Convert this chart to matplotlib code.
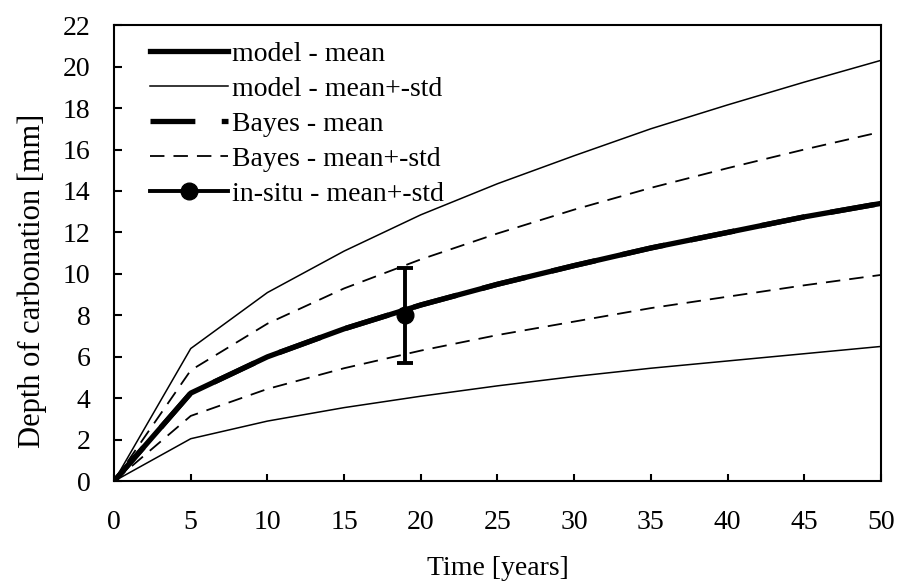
import numpy as np
import matplotlib.pyplot as plt
from matplotlib.lines import Line2D

plt.rcParams['font.family'] = ['Liberation Serif', 'DejaVu Serif']

years = [0, 5, 10, 15, 20, 25, 30, 35, 40, 45, 50]
model_mean = [0, 4.25, 6.0, 7.35, 8.5, 9.5, 10.4, 11.25, 12.0, 12.75, 13.4]
model_upper = [0, 6.4, 9.1, 11.1, 12.85, 14.35, 15.7, 17.0, 18.15, 19.25, 20.3]
model_lower = [0, 2.05, 2.9, 3.55, 4.1, 4.6, 5.05, 5.45, 5.8, 6.15, 6.5]
bayes_mean = [0, 4.25, 6.0, 7.35, 8.5, 9.5, 10.4, 11.25, 12.0, 12.75, 13.4]
bayes_upper = [0, 5.35, 7.6, 9.3, 10.7, 11.95, 13.1, 14.15, 15.1, 16.0, 16.85]
bayes_lower = [0, 3.15, 4.45, 5.45, 6.3, 7.05, 7.7, 8.35, 8.9, 9.45, 9.95]
insitu_t = [19]
insitu_mean = [8.0]
insitu_std = [2.3]

fig, ax = plt.subplots(figsize=(8.98, 5.84), dpi=100)
fig.subplots_adjust(left=0.127, right=0.981, top=0.957, bottom=0.176)

h1, = ax.plot(years, model_mean, color='black', lw=3.8, label='model - mean')
h2, = ax.plot(years, model_upper, color='black', lw=1.1, label='model - mean+-std')
ax.plot(years, model_lower, color='black', lw=1.1)
h3, = ax.plot(years, bayes_mean, color='black', lw=3.8, dashes=(8.5, 5), label='Bayes - mean')
h4, = ax.plot(years, bayes_upper, color='black', lw=1.3, dashes=(8, 5), label='Bayes - mean+-std')
ax.plot(years, bayes_lower, color='black', lw=1.3, dashes=(8, 5))
ax.errorbar(insitu_t, insitu_mean, yerr=insitu_std, color='black', lw=2.8, marker='o', ms=12,
            capsize=6, capthick=2.8, zorder=5)
h5 = Line2D([], [], color='black', lw=2.8, marker='o', ms=12)

ax.set_xlim(0, 50)
ax.set_ylim(0, 22)
ax.set_xticks(np.arange(0, 51, 5))
ax.set_yticks(np.arange(0, 23, 2))
ax.tick_params(axis='x', direction='in', length=5, width=1.5, pad=21, labelsize=20)
ax.tick_params(axis='y', direction='in', length=6, width=1.5, pad=17, labelsize=20)
for s in ax.spines.values():
    s.set_linewidth(1.5)
ax.set_xlabel('Time [years]', fontsize=20, labelpad=15)
ax.set_ylabel('Depth of carbonation [mm]', fontsize=22)
ax.yaxis.set_label_coords(-0.088, 0.44)

ax.legend([h1, h2, h3, h4, h5],
          ['model - mean', 'model - mean+-std', 'Bayes - mean', 'Bayes - mean+-std', 'in-situ - mean+-std'],
          loc='upper left', frameon=False, fontsize=20, handlelength=2.8, handletextpad=0.15,
          labelspacing=0.35, borderpad=0, borderaxespad=0, bbox_to_anchor=(0.047, 0.965))

plt.savefig('out.png')
